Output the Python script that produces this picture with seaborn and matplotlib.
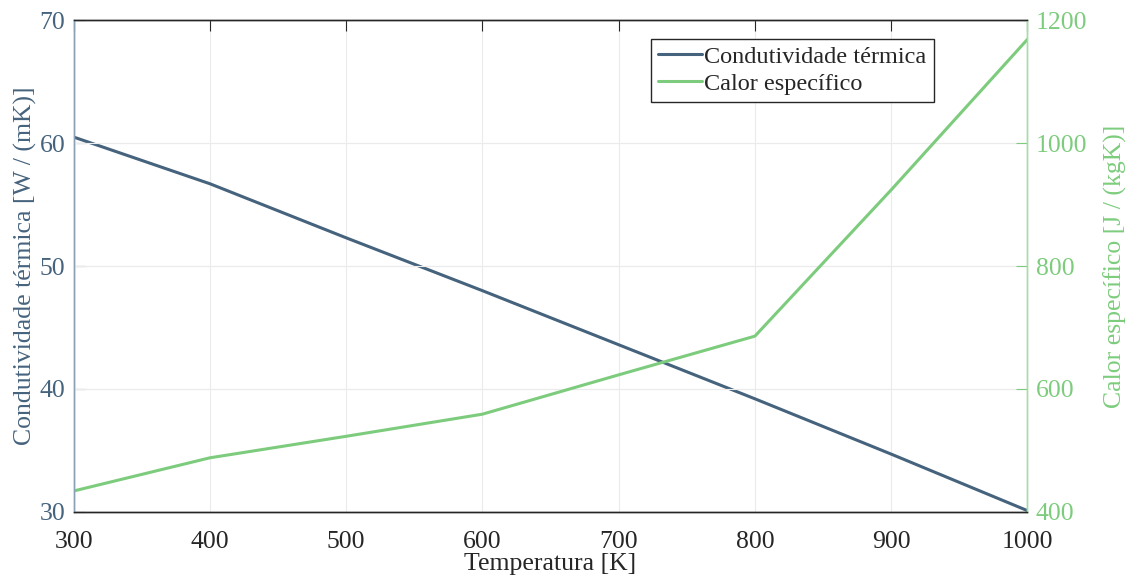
import numpy as np
import pandas as pd
import matplotlib
matplotlib.use("Agg")
import matplotlib.pyplot as plt
import seaborn as sns

temperatura = [300, 400, 500, 600, 700, 800, 900, 1000]
condutividade = [60.5, 56.7, 52.3, 48.0, 43.6, 39.2, 34.7, 30.1]
calor_especifico = [434, 488, 523, 559, 623, 686, 924, 1169]

cor_k = '#46637d'
cor_c = '#7dcc7d'
cor_c_eixo = '#a8dca8'

sns.set_style("white")
plt.rcParams['font.family'] = ['Liberation Serif', 'DejaVu Serif']
plt.rcParams['font.size'] = 18.5

df = pd.DataFrame({'T': temperatura, 'k': condutividade, 'cp': calor_especifico})

fig, ax = plt.subplots(figsize=(11.34, 5.81), dpi=100)
fig.subplots_adjust(left=0.065, right=0.906, top=0.965, bottom=0.119)

sns.lineplot(data=df, x='T', y='k', ax=ax, color=cor_k, linewidth=2.2,
             label='Condutividade térmica', legend=False)
ax2 = ax.twinx()
sns.lineplot(data=df, x='T', y='cp', ax=ax2, color=cor_c, linewidth=2.2,
             label='Calor específico', legend=False)

ax.set_xlim(300, 1000)
ax.set_ylim(30, 70)
ax2.set_ylim(400, 1200)
ax.set_xticks(np.arange(300, 1001, 100))
ax.set_yticks(np.arange(30, 71, 10))
ax2.set_yticks(np.arange(400, 1201, 200))

ax.grid(True, color='#ebebeb', linewidth=0.8)
ax2.grid(True, axis='y', color='#ebebeb', linewidth=0.8)
ax2.set_zorder(ax.get_zorder() + 1)
ax2.patch.set_visible(False)
ax.set_axisbelow(True)

ax.set_xlabel('Temperatura [K]', color='#262626', labelpad=0)
ax.set_ylabel('Condutividade térmica [W / (mK)]', color=cor_k, labelpad=2)
ax2.set_ylabel('Calor específico [J / (kgK)]', color=cor_c, labelpad=12)

for a in (ax, ax2):
    for s in a.spines.values():
        s.set_linewidth(1)
    a.spines['top'].set_color('#262626')
    a.spines['bottom'].set_color('#262626')
    a.spines['left'].set_color('#8aa0b4')
    a.spines['right'].set_color(cor_c_eixo)

ax.tick_params(axis='x', direction='in', length=8, colors='#262626', top=True, pad=14)
ax.tick_params(axis='y', direction='in', length=8, colors=cor_k, pad=6)
ax2.tick_params(axis='y', direction='in', length=8, colors=cor_c, pad=6)

linhas = ax.get_lines() + ax2.get_lines()
leg = ax2.legend(linhas, [l.get_label() for l in linhas], loc='upper right',
                 bbox_to_anchor=(0.9016, 0.963), fancybox=False, framealpha=1,
                 edgecolor='#262626', fontsize=17.5, handlelength=1.8,
                 handletextpad=0.1, borderpad=0.3, labelspacing=0.2,
                 borderaxespad=0)
leg.get_frame().set_linewidth(1)

plt.savefig('out.png', dpi=100)
plt.close()
